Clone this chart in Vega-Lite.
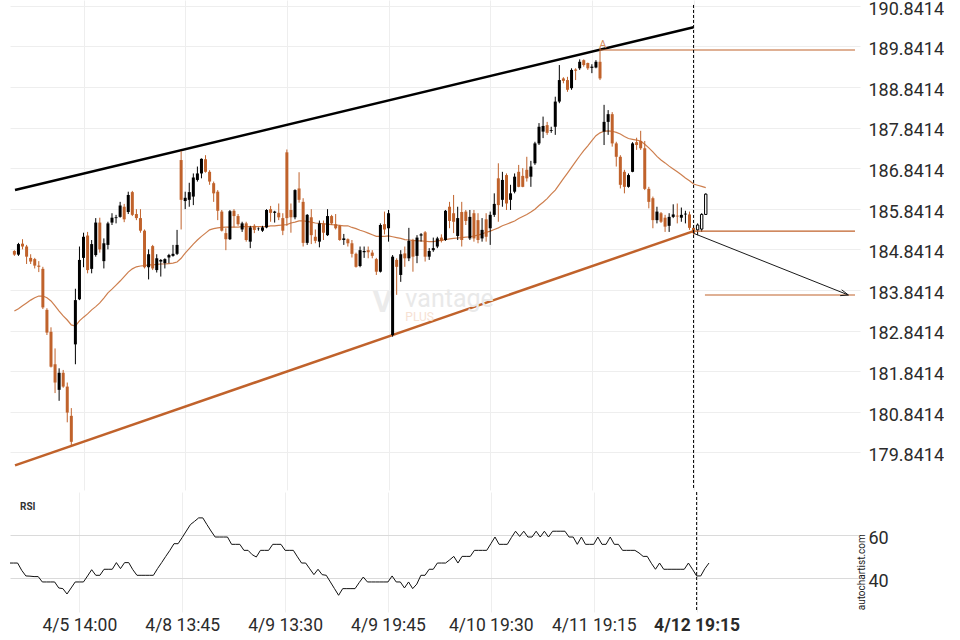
{
  "$schema": "https://vega.github.io/schema/vega-lite/v6.json",
  "padding": {"left": 10, "top": 0, "right": 0, "bottom": 0},
  "background": "white",
  "spacing": 0,
  "config": {"view": {"stroke": null}, "font": "Roboto"},
  "resolve": {"scale": {"x": "independent", "y": "independent"}},
  "datasets": {
    "candles": [
      {"i":-17,"o":184.80,"h":184.82,"l":184.68,"c":184.71,"k":"bear","ma":183.32,"rsi":47.1},
      {"i":-16,"o":184.71,"h":185.00,"l":184.68,"c":184.97,"k":"bull","ma":183.38,"rsi":47.1},
      {"i":-15,"o":184.98,"h":185.09,"l":184.84,"c":184.91,"k":"bear","ma":183.45,"rsi":47.1},
      {"i":-14,"o":184.91,"h":184.95,"l":184.48,"c":184.66,"k":"bear","ma":183.52,"rsi":43.7},
      {"i":-13,"o":184.63,"h":184.72,"l":184.48,"c":184.54,"k":"bear","ma":183.59,"rsi":41.1},
      {"i":-12,"o":184.60,"h":184.63,"l":184.37,"c":184.44,"k":"bear","ma":183.65,"rsi":41.0},
      {"i":-11,"o":184.44,"h":184.55,"l":184.28,"c":184.41,"k":"bear","ma":183.69,"rsi":40.8},
      {"i":-10,"o":184.36,"h":184.41,"l":183.37,"c":183.41,"k":"bear","ma":183.69,"rsi":40.8},
      {"i":-9,"o":183.35,"h":183.39,"l":182.73,"c":182.79,"k":"bear","ma":183.65,"rsi":38.3},
      {"i":-8,"o":182.81,"h":182.92,"l":181.93,"c":181.95,"k":"bear","ma":183.57,"rsi":38.3},
      {"i":-7,"o":182.01,"h":182.40,"l":181.30,"c":181.56,"k":"bear","ma":183.45,"rsi":38.3},
      {"i":-6,"o":181.38,"h":181.91,"l":181.11,"c":181.80,"k":"bull","ma":183.32,"rsi":38.3},
      {"i":-5,"o":181.80,"h":181.87,"l":181.43,"c":181.46,"k":"bear","ma":183.20,"rsi":35.5},
      {"i":-4,"o":181.46,"h":181.56,"l":180.58,"c":180.82,"k":"bear","ma":183.10,"rsi":35.2},
      {"i":-3,"o":180.74,"h":180.93,"l":179.98,"c":180.10,"k":"bear","ma":182.98,"rsi":32.7},
      {"i":-2,"o":182.50,"h":183.87,"l":182.01,"c":183.59,"k":"bull","ma":182.95,"rsi":35.5},
      {"i":-1,"o":183.61,"h":184.91,"l":183.59,"c":184.58,"k":"bull","ma":183.08,"rsi":38.3},
      {"i":0,"o":184.63,"h":185.25,"l":184.40,"c":185.15,"k":"bull","ma":183.17,"rsi":38.3},
      {"i":1,"o":185.18,"h":185.27,"l":184.25,"c":184.33,"k":"bear","ma":183.25,"rsi":38.3},
      {"i":2,"o":184.36,"h":185.07,"l":184.25,"c":184.97,"k":"bull","ma":183.35,"rsi":41.1},
      {"i":3,"o":184.70,"h":185.61,"l":184.66,"c":185.50,"k":"bull","ma":183.43,"rsi":44.0},
      {"i":4,"o":185.50,"h":185.62,"l":184.76,"c":184.84,"k":"bear","ma":183.52,"rsi":41.4},
      {"i":5,"o":184.55,"h":185.11,"l":184.37,"c":184.99,"k":"bull","ma":183.64,"rsi":41.4},
      {"i":6,"o":184.95,"h":185.52,"l":184.84,"c":185.48,"k":"bull","ma":183.77,"rsi":44.2},
      {"i":7,"o":185.50,"h":185.73,"l":185.44,"c":185.62,"k":"bull","ma":183.86,"rsi":44.2},
      {"i":8,"o":185.61,"h":185.69,"l":185.48,"c":185.63,"k":"bull","ma":183.96,"rsi":44.2},
      {"i":9,"o":185.64,"h":186.01,"l":185.62,"c":185.92,"k":"bull","ma":184.06,"rsi":47.3},
      {"i":10,"o":185.89,"h":185.96,"l":185.51,"c":185.58,"k":"bear","ma":184.17,"rsi":44.5},
      {"i":11,"o":185.76,"h":186.26,"l":185.71,"c":186.18,"k":"bull","ma":184.28,"rsi":47.3},
      {"i":12,"o":186.25,"h":186.28,"l":185.66,"c":185.69,"k":"bear","ma":184.36,"rsi":47.3},
      {"i":13,"o":185.71,"h":185.83,"l":185.56,"c":185.61,"k":"bear","ma":184.41,"rsi":44.0},
      {"i":14,"o":185.61,"h":185.83,"l":185.25,"c":185.30,"k":"bear","ma":184.43,"rsi":41.4},
      {"i":15,"o":185.30,"h":185.33,"l":184.37,"c":184.40,"k":"bear","ma":184.44,"rsi":41.4},
      {"i":16,"o":184.40,"h":184.84,"l":184.10,"c":184.72,"k":"bull","ma":184.46,"rsi":41.4},
      {"i":17,"o":184.92,"h":184.95,"l":184.33,"c":184.37,"k":"bear","ma":184.46,"rsi":41.4},
      {"i":18,"o":184.33,"h":184.72,"l":184.27,"c":184.62,"k":"bull","ma":184.47,"rsi":41.4},
      {"i":19,"o":184.54,"h":184.60,"l":184.17,"c":184.58,"k":"bull","ma":184.48,"rsi":44.5},
      {"i":20,"o":184.50,"h":184.62,"l":184.37,"c":184.60,"k":"bull","ma":184.48,"rsi":47.3},
      {"i":21,"o":184.64,"h":184.73,"l":184.50,"c":184.70,"k":"bull","ma":184.49,"rsi":50.2},
      {"i":22,"o":184.68,"h":184.95,"l":184.66,"c":184.73,"k":"bull","ma":184.50,"rsi":53.0},
      {"i":23,"o":184.73,"h":185.32,"l":184.70,"c":184.95,"k":"bull","ma":184.53,"rsi":56.1},
      {"i":24,"o":187.04,"h":187.26,"l":185.33,"c":186.06,"k":"bear","ma":184.62,"rsi":56.1},
      {"i":25,"o":186.03,"h":186.26,"l":185.83,"c":186.11,"k":"bull","ma":184.75,"rsi":59.0},
      {"i":26,"o":186.06,"h":186.48,"l":185.89,"c":186.25,"k":"bull","ma":184.86,"rsi":62.0},
      {"i":27,"o":186.14,"h":186.71,"l":185.93,"c":186.61,"k":"bull","ma":184.97,"rsi":65.0},
      {"i":28,"o":186.55,"h":186.88,"l":186.51,"c":186.71,"k":"bull","ma":185.07,"rsi":66.5},
      {"i":29,"o":186.71,"h":187.08,"l":186.59,"c":187.07,"k":"bull","ma":185.16,"rsi":68.1},
      {"i":30,"o":187.06,"h":187.16,"l":186.73,"c":186.75,"k":"bear","ma":185.24,"rsi":68.1},
      {"i":31,"o":186.75,"h":186.79,"l":186.43,"c":186.51,"k":"bear","ma":185.32,"rsi":65.0},
      {"i":32,"o":186.47,"h":186.51,"l":186.01,"c":186.22,"k":"bear","ma":185.35,"rsi":62.0},
      {"i":33,"o":186.26,"h":186.30,"l":185.56,"c":185.79,"k":"bear","ma":185.37,"rsi":59.2},
      {"i":34,"o":185.77,"h":185.81,"l":185.28,"c":185.30,"k":"bear","ma":185.38,"rsi":59.2},
      {"i":35,"o":185.24,"h":185.36,"l":184.82,"c":185.09,"k":"bear","ma":185.39,"rsi":59.2},
      {"i":36,"o":185.09,"h":185.81,"l":185.07,"c":185.78,"k":"bull","ma":185.39,"rsi":59.2},
      {"i":37,"o":185.79,"h":185.83,"l":185.38,"c":185.66,"k":"bear","ma":185.39,"rsi":55.8},
      {"i":38,"o":185.66,"h":185.71,"l":185.42,"c":185.46,"k":"bear","ma":185.39,"rsi":55.8},
      {"i":39,"o":185.33,"h":185.52,"l":185.27,"c":185.48,"k":"bull","ma":185.40,"rsi":55.8},
      {"i":40,"o":185.48,"h":185.52,"l":185.03,"c":185.07,"k":"bear","ma":185.40,"rsi":53.0},
      {"i":41,"o":185.03,"h":185.42,"l":184.87,"c":185.38,"k":"bull","ma":185.40,"rsi":53.0},
      {"i":42,"o":185.42,"h":185.46,"l":185.24,"c":185.32,"k":"bear","ma":185.40,"rsi":51.0},
      {"i":43,"o":185.34,"h":185.38,"l":185.30,"c":185.35,"k":"bull","ma":185.40,"rsi":49.9},
      {"i":44,"o":185.30,"h":185.42,"l":185.27,"c":185.38,"k":"bull","ma":185.40,"rsi":53.0},
      {"i":45,"o":185.38,"h":185.83,"l":185.36,"c":185.81,"k":"bull","ma":185.40,"rsi":53.0},
      {"i":46,"o":185.83,"h":185.91,"l":185.52,"c":185.74,"k":"bear","ma":185.42,"rsi":53.0},
      {"i":47,"o":185.74,"h":185.79,"l":185.50,"c":185.77,"k":"bull","ma":185.42,"rsi":55.8},
      {"i":48,"o":185.74,"h":185.97,"l":185.56,"c":185.63,"k":"bear","ma":185.43,"rsi":55.8},
      {"i":49,"o":185.61,"h":185.73,"l":185.19,"c":185.30,"k":"bear","ma":185.44,"rsi":55.8},
      {"i":50,"o":187.23,"h":187.30,"l":185.42,"c":185.61,"k":"bear","ma":185.45,"rsi":53.0},
      {"i":51,"o":185.81,"h":185.97,"l":185.25,"c":185.63,"k":"bear","ma":185.49,"rsi":53.0},
      {"i":52,"o":185.63,"h":186.32,"l":185.58,"c":186.30,"k":"bull","ma":185.51,"rsi":53.0},
      {"i":53,"o":186.34,"h":186.74,"l":185.99,"c":186.06,"k":"bear","ma":185.54,"rsi":50.0},
      {"i":54,"o":186.01,"h":186.10,"l":184.91,"c":185.00,"k":"bear","ma":185.54,"rsi":47.1},
      {"i":55,"o":185.00,"h":185.71,"l":184.95,"c":185.69,"k":"bull","ma":185.53,"rsi":47.1},
      {"i":56,"o":185.63,"h":185.83,"l":184.97,"c":185.19,"k":"bear","ma":185.51,"rsi":44.4},
      {"i":57,"o":185.15,"h":185.33,"l":184.99,"c":185.05,"k":"bear","ma":185.49,"rsi":41.7},
      {"i":58,"o":185.03,"h":185.55,"l":184.89,"c":185.48,"k":"bull","ma":185.48,"rsi":44.2},
      {"i":59,"o":185.48,"h":185.55,"l":185.07,"c":185.25,"k":"bear","ma":185.47,"rsi":41.7},
      {"i":60,"o":185.19,"h":185.83,"l":185.17,"c":185.66,"k":"bull","ma":185.46,"rsi":41.4},
      {"i":61,"o":185.66,"h":185.69,"l":185.44,"c":185.48,"k":"bear","ma":185.45,"rsi":38.3},
      {"i":62,"o":185.46,"h":185.71,"l":185.33,"c":185.36,"k":"bear","ma":185.44,"rsi":35.2},
      {"i":63,"o":185.42,"h":185.44,"l":185.05,"c":185.07,"k":"bear","ma":185.43,"rsi":32.1},
      {"i":64,"o":185.07,"h":185.22,"l":184.95,"c":185.11,"k":"bull","ma":185.42,"rsi":35.2},
      {"i":65,"o":185.09,"h":185.11,"l":184.91,"c":184.99,"k":"bear","ma":185.42,"rsi":35.2},
      {"i":66,"o":184.99,"h":185.07,"l":184.64,"c":184.73,"k":"bear","ma":185.38,"rsi":35.2},
      {"i":67,"o":184.73,"h":184.76,"l":184.39,"c":184.41,"k":"bear","ma":185.35,"rsi":35.2},
      {"i":68,"o":184.43,"h":184.91,"l":184.40,"c":184.82,"k":"bull","ma":185.31,"rsi":38.0},
      {"i":69,"o":184.77,"h":184.91,"l":184.63,"c":184.80,"k":"bull","ma":185.28,"rsi":40.6},
      {"i":70,"o":184.82,"h":184.91,"l":184.62,"c":184.77,"k":"bear","ma":185.24,"rsi":38.3},
      {"i":71,"o":184.76,"h":184.82,"l":184.62,"c":184.68,"k":"bear","ma":185.20,"rsi":38.3},
      {"i":72,"o":184.60,"h":184.63,"l":184.21,"c":184.29,"k":"bear","ma":185.16,"rsi":38.3},
      {"i":73,"o":184.29,"h":185.48,"l":184.27,"c":185.44,"k":"bull","ma":185.16,"rsi":38.3},
      {"i":74,"o":185.46,"h":185.77,"l":185.21,"c":185.33,"k":"bear","ma":185.16,"rsi":38.3},
      {"i":75,"o":185.36,"h":185.81,"l":185.03,"c":185.73,"k":"bull","ma":185.17,"rsi":38.3},
      {"i":76,"o":182.73,"h":184.70,"l":182.69,"c":184.66,"k":"bull","ma":185.15,"rsi":41.1},
      {"i":77,"o":184.58,"h":184.62,"l":183.72,"c":184.41,"k":"bear","ma":185.13,"rsi":38.3},
      {"i":78,"o":184.21,"h":184.82,"l":184.04,"c":184.72,"k":"bull","ma":185.11,"rsi":38.3},
      {"i":79,"o":184.74,"h":184.91,"l":184.41,"c":184.62,"k":"bear","ma":185.08,"rsi":35.5},
      {"i":80,"o":184.62,"h":185.37,"l":184.55,"c":185.05,"k":"bull","ma":185.07,"rsi":38.3},
      {"i":81,"o":185.07,"h":185.10,"l":184.29,"c":184.66,"k":"bear","ma":185.06,"rsi":35.2},
      {"i":82,"o":184.68,"h":185.19,"l":184.50,"c":185.13,"k":"bull","ma":185.05,"rsi":37.3},
      {"i":83,"o":185.18,"h":185.24,"l":185.03,"c":185.21,"k":"bull","ma":185.05,"rsi":41.4},
      {"i":84,"o":185.26,"h":185.29,"l":184.54,"c":184.66,"k":"bear","ma":185.04,"rsi":41.4},
      {"i":85,"o":184.66,"h":184.87,"l":184.58,"c":184.80,"k":"bull","ma":185.03,"rsi":44.2},
      {"i":86,"o":184.82,"h":185.13,"l":184.78,"c":184.87,"k":"bull","ma":185.03,"rsi":44.2},
      {"i":87,"o":184.91,"h":185.15,"l":184.87,"c":185.11,"k":"bull","ma":185.05,"rsi":47.1},
      {"i":88,"o":185.13,"h":185.21,"l":185.01,"c":185.05,"k":"bear","ma":185.06,"rsi":47.1},
      {"i":89,"o":185.07,"h":185.81,"l":185.05,"c":185.79,"k":"bull","ma":185.08,"rsi":47.1},
      {"i":90,"o":185.89,"h":186.01,"l":185.36,"c":185.54,"k":"bear","ma":185.10,"rsi":48.6},
      {"i":91,"o":185.73,"h":186.18,"l":185.24,"c":185.52,"k":"bear","ma":185.11,"rsi":50.2},
      {"i":92,"o":185.17,"h":185.89,"l":185.07,"c":185.61,"k":"bull","ma":185.12,"rsi":47.1},
      {"i":93,"o":185.76,"h":186.01,"l":184.91,"c":185.07,"k":"bear","ma":185.13,"rsi":50.2},
      {"i":94,"o":185.77,"h":185.81,"l":185.44,"c":185.54,"k":"bear","ma":185.14,"rsi":50.2},
      {"i":95,"o":185.11,"h":185.81,"l":185.07,"c":185.64,"k":"bull","ma":185.15,"rsi":50.2},
      {"i":96,"o":185.73,"h":185.81,"l":185.03,"c":185.11,"k":"bear","ma":185.17,"rsi":53.0},
      {"i":97,"o":185.56,"h":185.73,"l":184.99,"c":185.07,"k":"bear","ma":185.19,"rsi":53.0},
      {"i":98,"o":185.11,"h":185.61,"l":185.03,"c":185.32,"k":"bull","ma":185.22,"rsi":53.0},
      {"i":99,"o":185.58,"h":185.73,"l":185.03,"c":185.15,"k":"bear","ma":185.26,"rsi":53.0},
      {"i":100,"o":185.36,"h":185.77,"l":184.95,"c":185.69,"k":"bull","ma":185.29,"rsi":56.1},
      {"i":101,"o":185.69,"h":186.22,"l":185.64,"c":185.96,"k":"bull","ma":185.33,"rsi":59.2},
      {"i":102,"o":186.59,"h":186.96,"l":185.52,"c":185.93,"k":"bear","ma":185.37,"rsi":55.8},
      {"i":103,"o":186.06,"h":186.75,"l":185.89,"c":186.55,"k":"bull","ma":185.42,"rsi":55.8},
      {"i":104,"o":186.67,"h":186.71,"l":185.81,"c":185.97,"k":"bear","ma":185.46,"rsi":55.8},
      {"i":105,"o":186.06,"h":186.43,"l":185.81,"c":186.22,"k":"bull","ma":185.50,"rsi":59.0},
      {"i":106,"o":186.26,"h":186.71,"l":186.22,"c":186.63,"k":"bull","ma":185.54,"rsi":61.9},
      {"i":107,"o":186.75,"h":186.92,"l":186.37,"c":186.38,"k":"bear","ma":185.60,"rsi":59.5},
      {"i":108,"o":186.65,"h":186.84,"l":186.37,"c":186.38,"k":"bear","ma":185.65,"rsi":61.9},
      {"i":109,"o":186.80,"h":187.12,"l":186.51,"c":186.59,"k":"bear","ma":185.70,"rsi":59.2},
      {"i":110,"o":186.63,"h":187.02,"l":186.38,"c":186.88,"k":"bull","ma":185.76,"rsi":59.2},
      {"i":111,"o":186.96,"h":187.49,"l":186.92,"c":187.45,"k":"bull","ma":185.83,"rsi":61.9},
      {"i":112,"o":187.45,"h":187.95,"l":187.41,"c":187.86,"k":"bull","ma":185.92,"rsi":59.2},
      {"i":113,"o":187.74,"h":188.11,"l":187.58,"c":187.88,"k":"bull","ma":186.00,"rsi":61.9},
      {"i":114,"o":187.90,"h":187.98,"l":187.66,"c":187.71,"k":"bear","ma":186.09,"rsi":59.2},
      {"i":115,"o":187.76,"h":187.86,"l":187.71,"c":187.78,"k":"bull","ma":186.20,"rsi":61.9},
      {"i":116,"o":187.86,"h":188.60,"l":187.66,"c":188.48,"k":"bull","ma":186.30,"rsi":61.9},
      {"i":117,"o":188.48,"h":189.38,"l":188.44,"c":189.01,"k":"bull","ma":186.44,"rsi":61.9},
      {"i":118,"o":189.05,"h":189.08,"l":188.93,"c":188.99,"k":"bear","ma":186.58,"rsi":61.9},
      {"i":119,"o":189.01,"h":189.09,"l":188.72,"c":188.77,"k":"bear","ma":186.72,"rsi":59.2},
      {"i":120,"o":188.81,"h":189.30,"l":188.77,"c":189.26,"k":"bull","ma":186.86,"rsi":59.2},
      {"i":121,"o":189.27,"h":189.30,"l":189.01,"c":189.24,"k":"bear","ma":187.00,"rsi":55.8},
      {"i":122,"o":189.30,"h":189.52,"l":189.26,"c":189.46,"k":"bull","ma":187.14,"rsi":59.2},
      {"i":123,"o":189.50,"h":189.52,"l":189.34,"c":189.38,"k":"bear","ma":187.27,"rsi":55.8},
      {"i":124,"o":189.43,"h":189.44,"l":189.26,"c":189.30,"k":"bear","ma":187.39,"rsi":55.8},
      {"i":125,"o":189.31,"h":189.40,"l":189.18,"c":189.34,"k":"bull","ma":187.52,"rsi":55.8},
      {"i":126,"o":189.32,"h":189.50,"l":189.30,"c":189.46,"k":"bull","ma":187.64,"rsi":59.2},
      {"i":127,"o":189.46,"h":189.80,"l":189.01,"c":189.05,"k":"bear","ma":187.71,"rsi":55.8},
      {"i":128,"o":187.74,"h":188.40,"l":187.41,"c":187.98,"k":"bull","ma":187.75,"rsi":55.8},
      {"i":129,"o":187.98,"h":188.27,"l":187.66,"c":188.17,"k":"bull","ma":187.76,"rsi":59.2},
      {"i":130,"o":188.17,"h":188.22,"l":187.37,"c":187.45,"k":"bear","ma":187.75,"rsi":55.8},
      {"i":131,"o":187.45,"h":187.49,"l":186.88,"c":187.12,"k":"bear","ma":187.72,"rsi":55.8},
      {"i":132,"o":187.12,"h":187.16,"l":186.34,"c":186.43,"k":"bear","ma":187.68,"rsi":53.0},
      {"i":133,"o":186.75,"h":186.80,"l":186.22,"c":186.38,"k":"bear","ma":187.62,"rsi":53.0},
      {"i":134,"o":186.38,"h":186.71,"l":186.36,"c":186.67,"k":"bull","ma":187.57,"rsi":53.0},
      {"i":135,"o":186.75,"h":187.48,"l":186.74,"c":187.45,"k":"bull","ma":187.55,"rsi":53.0},
      {"i":136,"o":187.48,"h":187.59,"l":187.29,"c":187.41,"k":"bear","ma":187.53,"rsi":51.8},
      {"i":137,"o":187.51,"h":187.76,"l":187.29,"c":187.33,"k":"bear","ma":187.51,"rsi":50.2},
      {"i":138,"o":187.33,"h":187.51,"l":186.30,"c":186.33,"k":"bear","ma":187.43,"rsi":50.2},
      {"i":139,"o":186.33,"h":186.38,"l":185.85,"c":186.01,"k":"bear","ma":187.34,"rsi":47.0},
      {"i":140,"o":186.10,"h":186.14,"l":185.36,"c":185.56,"k":"bear","ma":187.24,"rsi":44.2},
      {"i":141,"o":185.56,"h":185.89,"l":185.48,"c":185.77,"k":"bull","ma":187.13,"rsi":47.1},
      {"i":142,"o":185.73,"h":185.76,"l":185.49,"c":185.52,"k":"bear","ma":187.04,"rsi":44.2},
      {"i":143,"o":185.62,"h":185.69,"l":185.27,"c":185.40,"k":"bear","ma":186.97,"rsi":44.2},
      {"i":144,"o":185.42,"h":185.73,"l":185.27,"c":185.64,"k":"bull","ma":186.89,"rsi":44.2},
      {"i":145,"o":185.64,"h":185.95,"l":185.61,"c":185.70,"k":"bull","ma":186.82,"rsi":44.2},
      {"i":146,"o":185.67,"h":185.97,"l":185.48,"c":185.65,"k":"bear","ma":186.75,"rsi":44.2},
      {"i":147,"o":185.62,"h":185.87,"l":185.52,"c":185.69,"k":"bull","ma":186.68,"rsi":44.2},
      {"i":148,"o":185.70,"h":185.79,"l":185.48,"c":185.72,"k":"bull","ma":186.60,"rsi":47.1},
      {"i":149,"o":185.70,"h":185.77,"l":185.32,"c":185.37,"k":"bear","ma":186.53,"rsi":44.2},
      {"i":150,"o":185.37,"h":185.44,"l":185.19,"c":185.24,"k":"bear","ma":186.45,"rsi":41.1},
      {"i":151,"o":185.32,"h":185.48,"l":185.19,"c":185.44,"k":"new","ma":186.42,"rsi":41.1},
      {"i":152,"o":185.34,"h":185.73,"l":185.27,"c":185.70,"k":"new","ma":186.39,"rsi":44.5},
      {"i":153,"o":185.70,"h":186.22,"l":185.69,"c":186.20,"k":"new","ma":186.36,"rsi":47.1}
    ]
  },
  "vconcat": [
    {
      "width": 850,
      "height": 490,
      "layer": [
        {
          "data": {"values": [{"i": -16.85, "p": 186.30}, {"i": 150, "p": 190.31}]},
          "mark": {"type": "line", "color": "#000000", "strokeWidth": 2.5, "clip": true},
          "encoding": {
            "x": {"field": "i", "type": "quantitative",
              "scale": {"domain": [-16.85, 189.7], "nice": false, "zero": false},
              "axis": {"values": [0, 25, 50, 75, 100, 125, 150], "labels": false, "ticks": false, "tickSize": 0, "domain": false, "grid": true, "gridColor": "#eeeeee", "title": null}},
            "y": {"field": "p", "type": "quantitative",
              "scale": {"domain": [178.913, 190.982], "nice": false, "zero": false},
              "axis": {"orient": "right", "values": [179.8414, 180.8414, 181.8414, 182.8414, 183.8414, 184.8414, 185.8414, 186.8414, 187.8414, 188.8414, 189.8414, 190.8414],
                "format": ".4f", "grid": true, "gridColor": "#eeeeee", "ticks": false, "tickSize": 0, "domain": false,
                "labelFontSize": 18, "labelColor": "#2b2b2b", "labelFont": "Roboto", "labelPadding": 8,
                "labelBaseline": "alphabetic", "labelOffset": 8.3, "labelOverlap": false, "title": null}}
          }
        },
        {
          "data": {"values": [{"i": -16.85, "p": 179.52}, {"i": 150, "p": 185.29}]},
          "mark": {"type": "line", "color": "#c0622b", "strokeWidth": 2.5, "clip": true},
          "encoding": {"x": {"field": "i", "type": "quantitative"}, "y": {"field": "p", "type": "quantitative"}}
        },
        {
          "data": {"values": [{"a": 71.12, "p": 183.30, "t": "V"}]},
          "mark": {"type": "text", "color": "#ebebeb", "fontSize": 30, "fontWeight": "bold", "font": "Roboto", "align": "left", "baseline": "alphabetic"},
          "encoding": {
            "x": {"field": "a", "type": "quantitative"},
            "y": {"field": "p", "type": "quantitative"},
            "text": {"field": "t"}
          }
        },
        {
          "data": {"values": [{"a": 79.14, "p": 183.43, "t": "vantage"}]},
          "mark": {"type": "text", "color": "#e9e9e9", "fontSize": 25, "font": "Roboto", "align": "left", "baseline": "alphabetic"},
          "encoding": {
            "x": {"field": "a", "type": "quantitative"},
            "y": {"field": "p", "type": "quantitative"},
            "text": {"field": "t"}
          }
        },
        {
          "data": {"values": [{"a": 79.14, "p": 183.08, "t": "PLUS"}]},
          "mark": {"type": "text", "color": "#f6e1d3", "fontSize": 12, "font": "Roboto", "align": "left", "baseline": "alphabetic", "letterSpacing": 2},
          "encoding": {
            "x": {"field": "a", "type": "quantitative"},
            "y": {"field": "p", "type": "quantitative"},
            "text": {"field": "t"}
          }
        },
        {
          "data": {"name": "candles"},
          "mark": {"type": "line", "color": "#c8703a", "strokeWidth": 1.2, "opacity": 0.9, "clip": true},
          "encoding": {"x": {"field": "i", "type": "quantitative"}, "y": {"field": "ma", "type": "quantitative"}}
        },
        {
          "data": {"name": "candles"},
          "mark": {"type": "rule", "strokeWidth": 1, "clip": true},
          "encoding": {
            "x": {"field": "i", "type": "quantitative"},
            "y": {"field": "l", "type": "quantitative"},
            "y2": {"field": "h"},
            "color": {"field": "k", "type": "nominal", "scale": {"domain": ["bear", "bull", "new"], "range": ["#c0622b", "#000000", "#000000"]}, "legend": null}
          }
        },
        {
          "data": {"name": "candles"},
          "transform": [{"filter": "datum.k != 'new'"}],
          "mark": {"type": "bar", "size": 3, "clip": true},
          "encoding": {
            "x": {"field": "i", "type": "quantitative"},
            "y": {"field": "o", "type": "quantitative"},
            "y2": {"field": "c"},
            "color": {"field": "k", "type": "nominal", "legend": null}
          }
        },
        {
          "data": {"name": "candles"},
          "transform": [{"filter": "datum.k == 'new'"}],
          "mark": {"type": "bar", "size": 2.4, "fill": "#ffffff", "stroke": "#000000", "strokeWidth": 1, "clip": true},
          "encoding": {
            "x": {"field": "i", "type": "quantitative"},
            "y": {"field": "o", "type": "quantitative"},
            "y2": {"field": "c"}
          }
        },
        {
          "data": {"values": [
            {"a": 127, "b": 189.7, "p": 189.75},
            {"a": 150.35, "b": 189.7, "p": 185.29},
            {"a": 152.8, "b": 189.7, "p": 183.716}
          ]},
          "mark": {"type": "rule", "color": "#c0622b", "strokeWidth": 1.2, "clip": true},
          "encoding": {
            "x": {"field": "a", "type": "quantitative"},
            "x2": {"field": "b"},
            "y": {"field": "p", "type": "quantitative"}
          }
        },
        {
          "data": {"values": [
            {"a": 150, "p": 185.236, "b": 188.07, "q": 183.716},
            {"a": 186.42, "p": 183.844, "b": 188.07, "q": 183.716},
            {"a": 186.05, "p": 183.70, "b": 188.07, "q": 183.716}
          ]},
          "mark": {"type": "rule", "color": "#1a1a1a", "strokeWidth": 1, "clip": true},
          "encoding": {
            "x": {"field": "a", "type": "quantitative"},
            "x2": {"field": "b"},
            "y": {"field": "p", "type": "quantitative"},
            "y2": {"field": "q"}
          }
        },
        {
          "data": {"values": [{"a": 150, "p": 190.86, "q": 178.913}]},
          "mark": {"type": "rule", "color": "#000000", "strokeWidth": 1, "strokeDash": [3, 2]},
          "encoding": {
            "x": {"field": "a", "type": "quantitative"},
            "y": {"field": "p", "type": "quantitative"},
            "y2": {"field": "q"}
          }
        },
        {
          "data": {"values": [{"a": 127.7, "p": 189.81, "t": "A"}]},
          "mark": {"type": "text", "color": "#d48c5c", "fontSize": 11, "font": "Roboto", "align": "center", "baseline": "alphabetic"},
          "encoding": {
            "x": {"field": "a", "type": "quantitative"},
            "y": {"field": "p", "type": "quantitative"},
            "text": {"field": "t"}
          }
        }
      ]
    },
    {
      "width": 850,
      "height": 120,
      "layer": [
        {
          "data": {"name": "candles"},
          "mark": {"type": "line", "color": "#111111", "strokeWidth": 1, "clip": true},
          "encoding": {
            "x": {"field": "i", "type": "quantitative",
              "scale": {"domain": [-16.85, 189.7], "nice": false, "zero": false},
              "axis": {"values": [0, 25, 50, 75, 100, 125, 150],
                "labelExpr": "['4/5 14:00','4/8 13:45','4/9 13:30','4/9 19:45','4/10 19:30','4/11 19:15','4/12 19:15'][round(datum.value/25)]",
                "grid": true, "gridColor": "#eeeeee", "ticks": false, "tickSize": 0, "domain": false,
                "labelFontSize": 17.5, "labelColor": "#2b2b2b", "labelFont": "Roboto", "labelPadding": 4,
                "labelFontWeight": {"condition": {"test": "datum.value == 150", "value": "bold"}, "value": "normal"},
                "labelFlush": false, "labelOverlap": false, "title": null}},
            "y": {"field": "rsi", "type": "quantitative",
              "scale": {"domain": [24.33, 80.14], "nice": false, "zero": false},
              "axis": {"orient": "right", "values": [40, 60], "grid": true, "gridColor": "#dadada", "ticks": false, "tickSize": 0, "domain": false,
                "labelFontSize": 18, "labelColor": "#2b2b2b", "labelFont": "Roboto", "labelPadding": 8,
                "labelBaseline": "alphabetic", "labelOffset": 8.5, "title": null}}
          }
        },
        {
          "data": {"values": [{"a": 150}]},
          "mark": {"type": "rule", "color": "#000000", "strokeWidth": 1, "strokeDash": [3, 2]},
          "encoding": {"x": {"field": "a", "type": "quantitative"}}
        },
        {
          "data": {"values": [{"a": -14.42, "r": 71.63, "t": "RSI"}]},
          "mark": {"type": "text", "color": "#333333", "fontSize": 10, "fontWeight": "bold", "font": "Roboto", "align": "left", "baseline": "alphabetic"},
          "encoding": {
            "x": {"field": "a", "type": "quantitative"},
            "y": {"field": "r", "type": "quantitative"},
            "text": {"field": "t"}
          }
        },
        {
          "data": {"values": [{"a": 190.92, "r": 25.12, "t": "autochartist.com"}]},
          "mark": {"type": "text", "color": "#222222", "fontSize": 10, "font": "Roboto", "align": "left", "baseline": "alphabetic", "angle": 270},
          "encoding": {
            "x": {"field": "a", "type": "quantitative"},
            "y": {"field": "r", "type": "quantitative"},
            "text": {"field": "t"}
          }
        }
      ]
    }
  ]
}
